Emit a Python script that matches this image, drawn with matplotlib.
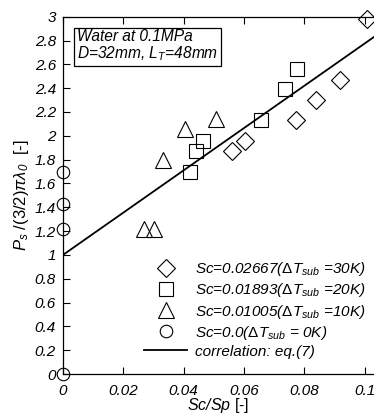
import matplotlib
matplotlib.use("Agg")
import matplotlib.pyplot as plt
from matplotlib.lines import Line2D
import numpy as np

plt.rcParams["font.family"] = ["Liberation Sans", "DejaVu Sans"]
plt.rcParams["mathtext.fontset"] = "custom"
plt.rcParams["mathtext.rm"] = "Liberation Sans:italic"
plt.rcParams["mathtext.it"] = "Liberation Sans:italic"
plt.rcParams["mathtext.sf"] = "Liberation Sans"

# data
x_30k = [0.0561, 0.0604, 0.0772, 0.0840, 0.0917, 0.1009]
y_30k = [1.87, 1.96, 2.13, 2.30, 2.47, 2.98]
x_20k = [0.0421, 0.0440, 0.0463, 0.0658, 0.0736, 0.0776]
y_20k = [1.70, 1.87, 1.96, 2.13, 2.39, 2.56]
x_10k = [0.0269, 0.0301, 0.0330, 0.0404, 0.0507]
y_10k = [1.22, 1.22, 1.80, 2.06, 2.14]
x_0k = [0.0, 0.0, 0.0, 0.0]
y_0k = [0.0, 1.215, 1.425, 1.70]
corr_x = [0.0, 0.1031]
corr_y = [1.0, 2.83]

labels = [
    r"Sc=0.02667($\mathsf{\Delta}T_{sub}$ =30K)",
    r"Sc=0.01893($\mathsf{\Delta}T_{sub}$ =20K)",
    r"Sc=0.01005($\mathsf{\Delta}T_{sub}$ =10K)",
    r"Sc=0.0($\mathsf{\Delta}T_{sub}$ = 0K)",
    "correlation: eq.(7)",
]

W, H = 374, 415
fig = plt.figure(figsize=(W / 100, H / 100), dpi=100)
ax = fig.add_axes([63 / W, (H - 374) / H, (W - 63) / W, (374 - 16.7) / H])

mk = dict(linestyle="none", markerfacecolor="none", markeredgecolor="black",
          markeredgewidth=0.8, clip_on=False)
ax.plot(x_30k, y_30k, marker="D", markersize=9.5, **mk)
ax.plot(x_20k, y_20k, marker="s", markersize=10, **mk)
ax.plot(x_10k, y_10k, marker="^", markersize=11, **mk)
ax.plot(x_0k, y_0k, marker="o", markersize=9, **mk)
ax.plot(corr_x, corr_y, color="black", linewidth=1.3)

ax.set_xlim(0, 0.1031)
ax.set_ylim(0, 3)
ax.set_xticks(np.arange(0, 0.101, 0.02))
ax.set_xticklabels(["0", "0.02", "0.04", "0.06", "0.08", "0.1"])
ax.set_yticks(np.arange(0, 3.01, 0.2))
ax.set_yticklabels(["0", "0.2", "0.4", "0.6", "0.8", "1", "1.2", "1.4", "1.6",
                    "1.8", "2", "2.2", "2.4", "2.6", "2.8", "3"])
ax.tick_params(direction="in", length=5, width=0.8, top=True, right=False,
               labelsize=11)
ax.tick_params(axis="x", pad=7)
ax.tick_params(axis="y", pad=5)
for t in ax.get_xticklabels() + ax.get_yticklabels():
    t.set_fontstyle("italic")
ax.spines["right"].set_visible(False)
for s in ["left", "bottom", "top"]:
    ax.spines[s].set_linewidth(0.9)

ax.set_xlabel("$Sc/Sp$ $\\mathsf{[\u2010]}$", fontsize=11.5, labelpad=-1)
ax.set_ylabel("$P_s$ /(3/2)$\\pi\\lambda_0$  $\\mathsf{[\u2010]}$", fontsize=12,
              labelpad=3)

ax.text(0.045, 0.965, "Water at 0.1MPa\nD=32mm, L$_T$=48mm", transform=ax.transAxes,
        fontsize=11.2, fontstyle="italic", va="top", ha="left", linespacing=1.02,
        bbox=dict(boxstyle="square,pad=0.2", facecolor="white", edgecolor="black",
                  linewidth=0.9))

handles = [
    Line2D([], [], marker="D", markersize=9.5, **mk),
    Line2D([], [], marker="s", markersize=10, **mk),
    Line2D([], [], marker="^", markersize=11, **mk),
    Line2D([], [], marker="o", markersize=9, **mk),
    Line2D([], [], color="black", linewidth=1.3),
]
leg = ax.legend(handles, labels, loc="lower left", bbox_to_anchor=(0.262, 0.043),
                frameon=False, fontsize=11, handlelength=2.8, handletextpad=0.5,
                labelspacing=0.2, borderpad=0, borderaxespad=0)
for t in leg.get_texts():
    t.set_fontstyle("italic")

fig.savefig("out.png", dpi=100)
